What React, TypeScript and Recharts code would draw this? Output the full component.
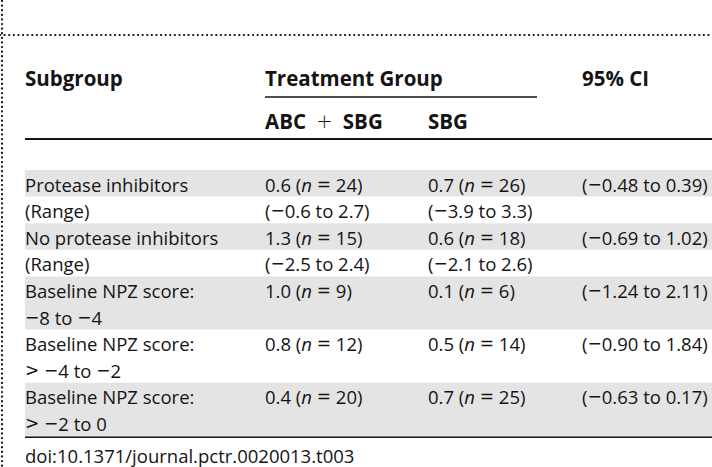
import React from "react";
import { BarChart, Bar, XAxis, YAxis, Cell, LabelList } from "recharts";

// ---- data ----
const subgroupLines = [
  "Protease inhibitors",
  "(Range)",
  "No protease inhibitors",
  "(Range)",
  "Baseline NPZ score:",
  "\u22128 to \u22124",
  "Baseline NPZ score:",
  "> \u22124 to \u22122",
  "Baseline NPZ score:",
  "> \u22122 to 0",
];
const abcMeans = ["0.6", "1.3", "1.0", "0.8", "0.4"];
const abcN = [24, 15, 9, 12, 20];
const sbgMeans = ["0.7", "0.6", "0.1", "0.5", "0.7"];
const sbgN = [26, 18, 6, 14, 25];
const abcRanges = ["(\u22120.6 to 2.7)", "(\u22122.5 to 2.4)"];
const sbgRanges = ["(\u22123.9 to 3.3)", "(\u22122.1 to 2.6)"];
const ciLabels = [
  "(\u22120.48 to 0.39)",
  "(\u22120.69 to 1.02)",
  "(\u22121.24 to 2.11)",
  "(\u22120.90 to 1.84)",
  "(\u22120.63 to 0.17)",
];
const shadedLines = [true, false, true, false, true, true, false, false, true, true];
const headerLabels = ["Subgroup", "Treatment Group", "95% CI"];
const subHeaderLabels = ["ABC", "SBG"];
const footnote = "doi:10.1371/journal.pctr.0020013.t003";

type Row = {
  i: number;
  band: number;
  sub: string;
  abcMean?: string;
  abcN?: number;
  abcText?: string;
  sbgMean?: string;
  sbgN?: number;
  sbgText?: string;
  ci?: string;
  shaded: boolean;
};

const rows: Row[] = subgroupLines.map((sub, i) => {
  const g = Math.floor(i / 2);
  const first = i % 2 === 0;
  const r: Row = { i, band: 1, sub, shaded: shadedLines[i] };
  if (first) {
    r.abcMean = abcMeans[g];
    r.abcN = abcN[g];
    r.sbgMean = sbgMeans[g];
    r.sbgN = sbgN[g];
    r.ci = ciLabels[g];
  } else if (g < abcRanges.length) {
    r.abcText = abcRanges[g];
    r.sbgText = sbgRanges[g];
  }
  return r;
});

// ---- layout ----
const W = 712;
const H = 467;
const COL = [25, 265, 428, 582];
const FONT = "'Open Sans', 'Noto Sans', sans-serif";
const MATH = "'DejaVu Sans', sans-serif";
const INK = "#141414";
const SHADE = "#e4e4e4";
const BODY_SIZE = 18.5;
const HEAD_SIZE = 20.5;
const EN = "\u2002";

const MATH_CHARS = "\u2212=+>";

// split a string into runs, math symbols drawn with a wider math-like face
const runs = (s: string, keyBase: string) => {
  const out: React.ReactNode[] = [];
  let buf = "";
  let k = 0;
  for (const ch of s) {
    if (MATH_CHARS.includes(ch)) {
      if (buf) out.push(<tspan key={keyBase + k++}>{buf}</tspan>);
      buf = "";
      out.push(
        <tspan key={keyBase + k++} fontFamily={MATH} fontWeight="normal" fontSize={BODY_SIZE * 0.92}>
          {ch}
        </tspan>
      );
    } else buf += ch;
  }
  if (buf) out.push(<tspan key={keyBase + k++}>{buf}</tspan>);
  return out;
};

const midY = (p: any) => {
  const vb = p.viewBox || {};
  const y = vb.y ?? p.y;
  const h = vb.height ?? p.height;
  return y + h / 2;
};

const bodyText = (x: number, y: number, children: React.ReactNode) => (
  <text x={x} y={y} dominantBaseline="central" fontFamily={FONT} fontSize={BODY_SIZE} fill={INK}>
    {children}
  </text>
);

const statText = (x: number, y: number, mean?: string, n?: number, plain?: string) => {
  if (mean !== undefined) {
    return bodyText(
      x,
      y,
      <>
        {runs(mean + " (", "a")}
        <tspan fontStyle="italic">n</tspan>
        {runs(" = " + n + ")", "b")}
      </>
    );
  }
  if (plain) return bodyText(x, y, runs(plain, "p"));
  return null;
};

const subContent = (p: any) => {
  const r = rows[p.value];
  if (!r) return null;
  return bodyText(COL[0], midY(p), runs(r.sub, "s"));
};
const abcContent = (p: any) => {
  const r = rows[p.value];
  if (!r) return null;
  return statText(COL[1], midY(p), r.abcMean, r.abcN, r.abcText);
};
const sbgContent = (p: any) => {
  const r = rows[p.value];
  if (!r) return null;
  return statText(COL[2], midY(p), r.sbgMean, r.sbgN, r.sbgText);
};
const ciContent = (p: any) => {
  const r = rows[p.value];
  if (!r || !r.ci) return null;
  return bodyText(COL[3], midY(p), runs(r.ci, "c"));
};

export default function App() {
  return (
    <div style={{ position: "fixed", left: 0, top: 0, width: W, height: H, background: "#fff" }}>
      <BarChart
        width={W}
        height={H}
        data={rows}
        layout="vertical"
        margin={{ top: 170, right: 0, bottom: 31, left: 25 }}
        barCategoryGap={0}
      >
        <XAxis type="number" hide domain={[0, 1]} />
        <YAxis type="category" dataKey="i" hide />
        <Bar dataKey="band" isAnimationActive={false}>
          {rows.map((r) => (
            <Cell key={r.i} fill={r.shaded ? SHADE : "#ffffff"} />
          ))}
          <LabelList dataKey="i" content={subContent} />
          <LabelList dataKey="i" content={abcContent} />
          <LabelList dataKey="i" content={sbgContent} />
          <LabelList dataKey="i" content={ciContent} />
        </Bar>

        {/* dotted frame */}
        <line x1={0} y1={35} x2={W} y2={35} stroke="#111" strokeWidth={2.2} strokeDasharray="0.1 4.5" strokeLinecap="round" />
        <line x1={2} y1={1} x2={2} y2={H} stroke="#111" strokeWidth={2.2} strokeDasharray="0.1 4.5" strokeLinecap="round" />

        {/* header */}
        <text x={COL[0]} y={78} dominantBaseline="central" fontFamily={FONT} fontSize={HEAD_SIZE} fontWeight="bold" fill={INK}>
          {headerLabels[0]}
        </text>
        <text x={COL[1]} y={78} dominantBaseline="central" fontFamily={FONT} fontSize={HEAD_SIZE} fontWeight="bold" fill={INK}>
          {headerLabels[1]}
        </text>
        <text x={COL[3]} y={78} dominantBaseline="central" fontFamily={FONT} fontSize={HEAD_SIZE} fontWeight="bold" fill={INK}>
          {headerLabels[2]}
        </text>
        <line x1={COL[1]} y1={97} x2={537} y2={97} stroke={INK} strokeWidth={1.5} />
        <text x={COL[1]} y={121} dominantBaseline="central" fontFamily={FONT} fontSize={HEAD_SIZE} fontWeight="bold" fill={INK}>
          {subHeaderLabels[0] + EN}
          <tspan fontFamily={MATH} fontWeight="200" fontSize={HEAD_SIZE * 0.95}>+</tspan>
          {EN + subHeaderLabels[1]}
        </text>
        <text x={COL[2]} y={121} dominantBaseline="central" fontFamily={FONT} fontSize={HEAD_SIZE} fontWeight="bold" fill={INK}>
          {subHeaderLabels[1]}
        </text>
        <line x1={COL[0]} y1={139} x2={W} y2={139} stroke={INK} strokeWidth={2} />

        {/* bottom rule & footnote */}
        <line x1={COL[0]} y1={437} x2={W} y2={437} stroke={INK} strokeWidth={2} />
        <text x={COL[0]} y={455} dominantBaseline="central" fontFamily={FONT} fontSize={BODY_SIZE} fill={INK}>
          {footnote}
        </text>
      </BarChart>
    </div>
  );
}
